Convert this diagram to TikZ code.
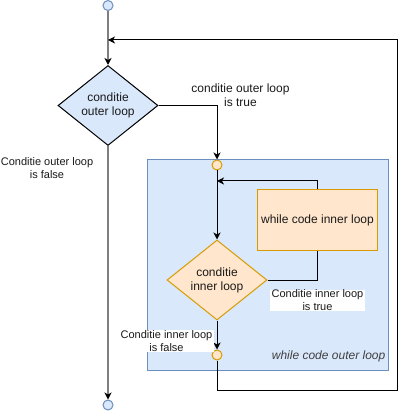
\documentclass[tikz,border=0pt]{standalone}
\usepackage{fontspec}
\setmainfont{Liberation Sans}
\usetikzlibrary{shapes.geometric,arrows.meta}
\definecolor{bluefill}{HTML}{DAE8FC}
\definecolor{bluestroke}{HTML}{6C8EBF}
\definecolor{orfill}{HTML}{FFE6CC}
\definecolor{orstroke}{HTML}{D79B00}
\definecolor{grayline}{HTML}{7F7F7F}
\definecolor{txt}{HTML}{1A1A1A}
\begin{document}
\begin{tikzpicture}[x=1pt,y=-1pt,
  font=\fontsize{12}{14}\selectfont,
  every node/.style={align=center, inner sep=0pt, text=txt},
  small/.style={font=\fontsize{11}{13}\selectfont},
  tip/.style={-{Stealth[length=7pt,width=7pt,inset=2pt,color=black]}},
  arr/.style={tip, line width=1pt, draw=black},
  garr/.style={tip, line width=1.6pt, draw=grayline},
  dia/.style={diamond, aspect=1.25, minimum width=100pt, minimum height=80pt, line width=1pt},
  bluecirc/.style={circle, minimum size=10pt, fill=bluefill, draw=bluestroke, line width=1pt},
  orcirc/.style={circle, minimum size=10pt, fill=orfill, draw=orstroke, line width=1pt},
  lbl/.style={small, fill=white, inner xsep=2pt, inner ysep=0pt}]
\useasboundingbox (0,0) rectangle (406,411);
\fill[white] (0,0) rectangle (406,411);

% outer loop body
\node[draw=bluestroke, fill=bluefill, line width=1pt, minimum width=241pt, minimum height=210pt] (outerbody) at (267.5,265) {};
\node[anchor=east, font=\fontsize{12}{14}\selectfont\itshape, text=black!75] (outerlbl) at (385.5,356) {while code outer loop};

% nodes
\node[bluecirc] (start) at (108,5.5) {};
\node[bluecirc] (stop) at (108,405) {};
\node[dia, fill=bluefill, draw=black] (od) at (108,105.5) {conditie\\outer loop};
\node[orcirc] (c1) at (217,165) {};
\node[orcirc] (c2) at (217,355) {};
\node[dia, fill=orfill, draw=orstroke] (id) at (217,280) {conditie\\inner loop};
\node[draw=orstroke, fill=orfill, line width=1pt, minimum width=120pt, minimum height=60pt] (ir) at (317.5,220) {while code inner loop};

% coordinates
\coordinate (j1) at (217,181);
\coordinate (j2) at (108,40);
\coordinate (k1) at (217,390.5);
\coordinate (k2) at (397.5,390.5);
\coordinate (k3) at (397.5,40);

% connectors
\draw[garr] (start) -- (od);
\draw[garr] (od) -- (stop);
\draw[arr] (od.east) -| (c1);
\draw[arr] (c1) -- (id);
\draw[line width=1pt] (id.east) -| (ir.south);
\draw[arr] (ir.north) |- (j1);
\draw[arr] (id) -- (c2);
\draw[arr] (c2) -- (k1) -- (k2) -- (k3) -- (j2);

% labels
\node (lot) at (240.5,95.5) {conditie outer loop\\is true};
\node[small] (lof) at (47,168.5) {Conditie outer loop\\is false};
\node[lbl] (lit) at (317.5,300.5) {Conditie inner loop\\is true};
\node[lbl] (lif) at (166.5,341) {Conditie inner loop\\is false};
\end{tikzpicture}
\end{document}
